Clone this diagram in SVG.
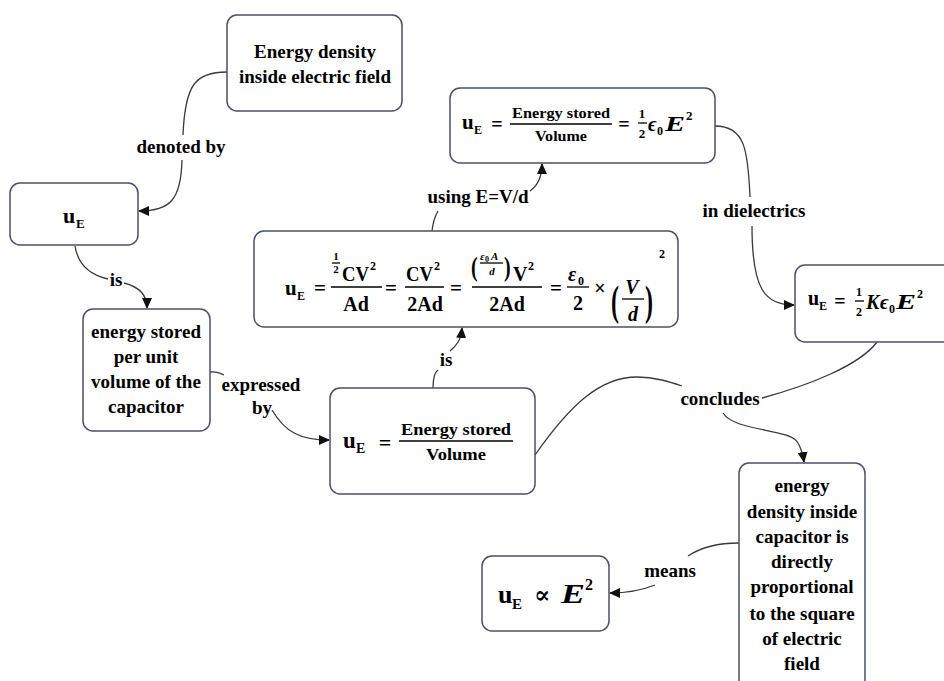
<svg xmlns="http://www.w3.org/2000/svg" width="944" height="681" viewBox="0 0 944 681" font-family="Liberation Serif, DejaVu Serif, Times New Roman, serif">
  <defs>
    <marker id="ah" markerUnits="userSpaceOnUse" markerWidth="11" markerHeight="10" refX="10" refY="5" orient="auto">
      <path d="M0,0 L11,5 L0,10 z" fill="#111"/>
    </marker>
    <style>
      .box { fill: #ffffff; stroke: #4a506e; stroke-width: 1.5; }
      .edge { fill: none; stroke: #3a3a3a; stroke-width: 1.3; }
      .arr { marker-end: url(#ah); }
      .lbl { font-weight: bold; font-size: 19px; fill: #000; text-anchor: middle; }
      .m { font-weight: bold; fill: #000; }
      .i { font-style: italic; }
      .c { text-anchor: middle; }
      .bar { stroke: #000; stroke-width: 1.3; }
    </style>
  </defs>
  <rect width="944" height="681" fill="#ffffff"/>

  <!-- connectors with their labels -->
  <g id="connectors">
    <path class="edge" d="M227,72 C195,72 185,85 183,135"/>
    <path class="edge arr" d="M182,160 C181,200 170,211 139,211"/>
    <text class="lbl" x="181" y="153">denoted by</text>

    <path class="edge" d="M75,246 C78,265 90,275 108,279"/>
    <path class="edge arr" d="M124,283 C140,287 147,295 147,308"/>
    <text class="lbl" x="116" y="286">is</text>

    <path class="edge" d="M210,372 C216,371 220,373 224,375"/>
    <path class="edge arr" d="M272,410 C285,432 300,440 329,440"/>
    <text class="lbl" x="261" y="391">expressed</text>
    <text class="lbl" x="262" y="414">by</text>

    <path class="edge" d="M433,388 C433,377 435,372 438,370"/>
    <path class="edge arr" d="M450,351 C457,345 461,340 462,328"/>
    <text class="lbl" x="446" y="366">is</text>

    <path class="edge" d="M432,231 C433,222 435,216 438,211"/>
    <path class="edge arr" d="M530,191 C537,186 542,178 542,164"/>
    <text class="lbl" x="478" y="203">using E=V/d</text>

    <path class="edge" d="M715,126 C745,126 748,150 750,197"/>
    <path class="edge arr" d="M752,226 C752,290 765,305 794,305"/>
    <text class="lbl" x="754" y="217">in dielectrics</text>

    <path class="edge" d="M535,455 C570,405 600,377 637,377 C655,377 670,382 682,386"/>
    <path class="edge" d="M877,342 C860,365 810,385 762,398"/>
    <path class="edge arr" d="M723,413 C735,432 790,428 798,443 C802,450 803,455 804,462"/>
    <text class="lbl" x="720" y="405">concludes</text>

    <path class="edge" d="M739,543 C715,543 700,548 688,556"/>
    <path class="edge arr" d="M655,585 C640,591 625,593 610,593"/>
    <text class="lbl" x="670" y="577">means</text>
  </g>

  <!-- definition -->
  <g id="node-definition">
    <rect class="box" x="227" y="15" width="175" height="96" rx="10"/>
    <text class="lbl" x="315" y="58">Energy density</text>
    <text class="lbl" x="315" y="83">inside electric field</text>
  </g>

  <!-- symbol -->
  <g id="node-symbol">
    <rect class="box" x="10" y="183" width="128" height="62" rx="10"/>
    <text class="m" x="63" y="223" font-size="22">u</text>
    <text class="m" x="76" y="228" font-size="13">E</text>
  </g>

  <!-- meaning -->
  <g id="node-meaning">
    <rect class="box" x="83" y="309" width="127" height="122" rx="10"/>
    <text class="lbl" x="146" y="338">energy stored</text>
    <text class="lbl" x="146" y="363">per unit</text>
    <text class="lbl" x="146" y="388">volume of the</text>
    <text class="lbl" x="146" y="413">capacitor</text>
  </g>

  <!-- energy per volume -->
  <g id="node-ratio">
    <rect class="box" x="330" y="388" width="205" height="106" rx="10"/>
    <text class="m" x="343" y="448" font-size="23">u</text>
    <text class="m" x="356" y="453" font-size="14">E</text>
    <text class="m c" x="385" y="450" font-size="22">=</text>
    <text class="m c" x="456" y="435" font-size="17" textLength="110" lengthAdjust="spacingAndGlyphs">Energy stored</text>
    <line class="bar" x1="399" y1="441" x2="513" y2="441"/>
    <text class="m c" x="456" y="460" font-size="17" textLength="60" lengthAdjust="spacingAndGlyphs">Volume</text>
  </g>

  <!-- derivation -->
  <g id="node-derivation">
    <rect class="box" x="254" y="231" width="424" height="96" rx="10"/>
    <text class="m" x="285" y="295" font-size="21">u</text>
    <text class="m" x="297" y="300" font-size="12">E</text>
    <text class="m c" x="320" y="295" font-size="21">=</text>

    <text class="m c" x="336" y="260" font-size="11">1</text>
    <line class="bar" x1="332" y1="263" x2="340" y2="263" stroke-width="1"/>
    <text class="m c" x="336" y="273" font-size="11">2</text>
    <text class="m" x="342" y="281" font-size="20" textLength="27" lengthAdjust="spacingAndGlyphs">CV</text>
    <text class="m" x="370" y="270" font-size="12">2</text>
    <line class="bar" x1="331" y1="287" x2="382" y2="287"/>
    <text class="m c" x="356" y="311" font-size="20">Ad</text>

    <text class="m c" x="391" y="295" font-size="21">=</text>

    <text class="m" x="406" y="281" font-size="20" textLength="27" lengthAdjust="spacingAndGlyphs">CV</text>
    <text class="m" x="434" y="270" font-size="12">2</text>
    <line class="bar" x1="405" y1="287" x2="444" y2="287"/>
    <text class="m c" x="425" y="311" font-size="20">2Ad</text>

    <text class="m c" x="456" y="295" font-size="21">=</text>

    <text class="m" x="0" y="0" font-size="20" transform="translate(471,276) scale(1,1.35)">(</text>
    <text class="m i" x="480" y="260" font-size="11">ε</text>
    <text class="m" x="485" y="262" font-size="8">0</text>
    <text class="m i" x="491" y="260" font-size="11">A</text>
    <line class="bar" x1="480" y1="263" x2="503" y2="263" stroke-width="1"/>
    <text class="m i c" x="492" y="275" font-size="11">d</text>
    <text class="m" x="0" y="0" font-size="20" transform="translate(504,276) scale(1,1.35)">)</text>
    <text class="m" x="513" y="281" font-size="20">V</text>
    <text class="m" x="528" y="270" font-size="12">2</text>
    <line class="bar" x1="472" y1="287" x2="542" y2="287"/>
    <text class="m c" x="507" y="311" font-size="20">2Ad</text>

    <text class="m c" x="556" y="295" font-size="21">=</text>

    <text class="m i" x="568" y="281" font-size="20">ε</text>
    <text class="m" x="578" y="285" font-size="12">0</text>
    <line class="bar" x1="567" y1="287" x2="589" y2="287"/>
    <text class="m c" x="578" y="310" font-size="20">2</text>

    <text class="m c" x="600" y="295" font-size="20">×</text>

    <text class="m" x="0" y="0" font-size="24" transform="translate(611,315) scale(1,1.75)">(</text>
    <text class="m i c" x="632" y="294" font-size="20">V</text>
    <line class="bar" x1="622" y1="299" x2="644" y2="299"/>
    <text class="m i c" x="633" y="321" font-size="20">d</text>
    <text class="m" x="0" y="0" font-size="24" transform="translate(645,315) scale(1,1.75)">)</text>
    <text class="m" x="659" y="258" font-size="12">2</text>
  </g>

  <!-- field form -->
  <g id="node-field">
    <rect class="box" x="450" y="88" width="265" height="75" rx="10"/>
    <text class="m" x="462" y="129" font-size="21">u</text>
    <text class="m" x="474" y="134" font-size="12">E</text>
    <text class="m c" x="497" y="131" font-size="20">=</text>
    <text class="m c" x="561" y="118" font-size="15" textLength="98" lengthAdjust="spacingAndGlyphs">Energy stored</text>
    <line class="bar" x1="510" y1="124" x2="612" y2="124"/>
    <text class="m c" x="561" y="141" font-size="15" textLength="52" lengthAdjust="spacingAndGlyphs">Volume</text>
    <text class="m c" x="624" y="131" font-size="20">=</text>
    <text class="m c" x="642" y="118" font-size="13">1</text>
    <line class="bar" x1="638" y1="123" x2="647" y2="123" stroke-width="1.1"/>
    <text class="m c" x="642" y="138" font-size="13">2</text>
    <text class="m i" x="648" y="131" font-size="20">ϵ</text>
    <text class="m" x="657" y="135" font-size="12">0</text>
    <text class="m i" x="665" y="131" font-size="22" textLength="20" lengthAdjust="spacingAndGlyphs">E</text>
    <text class="m" x="686" y="120" font-size="13">2</text>
  </g>

  <!-- dielectric form -->
  <g id="node-dielectric">
    <rect class="box" x="795" y="265" width="160" height="77" rx="10"/>
    <text class="m" x="808" y="305" font-size="20">u</text>
    <text class="m" x="819" y="310" font-size="12">E</text>
    <text class="m c" x="840" y="308" font-size="20">=</text>
    <text class="m c" x="859" y="296" font-size="12">1</text>
    <line class="bar" x1="855" y1="301" x2="864" y2="301" stroke-width="1.1"/>
    <text class="m c" x="859" y="316" font-size="12">2</text>
    <text class="m i" x="866" y="309" font-size="20">K</text>
    <text class="m i" x="880" y="309" font-size="20">ϵ</text>
    <text class="m" x="889" y="313" font-size="12">0</text>
    <text class="m i" x="896" y="309" font-size="21" textLength="20" lengthAdjust="spacingAndGlyphs">E</text>
    <text class="m" x="917" y="298" font-size="12">2</text>
  </g>

  <!-- conclusion -->
  <g id="node-conclusion">
    <rect class="box" x="739" y="463" width="126" height="240" rx="10"/>
    <text class="lbl" x="802" y="492">energy</text>
    <text class="lbl" x="802" y="518">density inside</text>
    <text class="lbl" x="802" y="543">capacitor is</text>
    <text class="lbl" x="802" y="568">directly</text>
    <text class="lbl" x="802" y="593">proportional</text>
    <text class="lbl" x="802" y="620">to the square</text>
    <text class="lbl" x="802" y="645">of electric</text>
    <text class="lbl" x="802" y="670">field</text>
  </g>

  <!-- proportionality -->
  <g id="node-proportional">
    <rect class="box" x="482" y="556" width="127" height="75" rx="10"/>
    <text class="m" x="498" y="603" font-size="26">u</text>
    <text class="m" x="512" y="609" font-size="15">E</text>
    <text class="m" x="534" y="603" font-size="24">∝</text>
    <text class="m i" x="561" y="603" font-size="27" textLength="24" lengthAdjust="spacingAndGlyphs">E</text>
    <text class="m" x="585" y="590" font-size="16">2</text>
  </g>
</svg>
